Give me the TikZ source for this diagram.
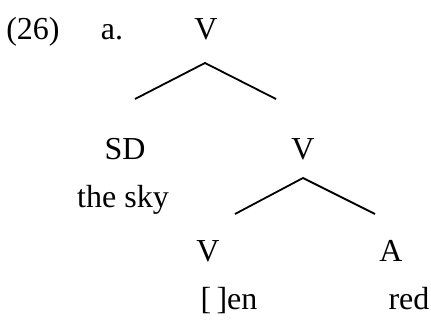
\documentclass[tikz,border=0pt]{standalone}
\usepackage{fontspec}
\setmainfont{Liberation Serif}
\begin{document}
\begin{tikzpicture}[x=1pt,y=-1pt,
  lbl/.style={inner sep=0pt,font=\fontsize{32}{38}\selectfont,anchor=base},
  branch/.style={line width=1.8pt}]
\useasboundingbox (0,0) rectangle (431,327);
\node[lbl] (num) at (33,39) {(26)};
\node[lbl] (ex) at (112,39) {a.};
\node[lbl] (v1) at (206,39) {V};
\coordinate (a1) at (205,63);
\coordinate (l1) at (135,99);
\coordinate (r1) at (276,99);
\draw[branch] (l1) -- (a1) -- (r1);
\node[lbl] (sd) at (125,159) {SD};
\node[lbl] (sky) at (123,207) {the sky};
\node[lbl] (v2) at (303,159) {V};
\coordinate (a2) at (303,178);
\coordinate (l2) at (235,214);
\coordinate (r2) at (375,214);
\draw[branch] (l2) -- (a2) -- (r2);
\node[lbl] (v3) at (208,261) {V};
\node[lbl] (a) at (391,261) {A};
\node[lbl] (en) at (229,309) {[\,]en};
\node[lbl] (red) at (409,309) {red};
\end{tikzpicture}
\end{document}
